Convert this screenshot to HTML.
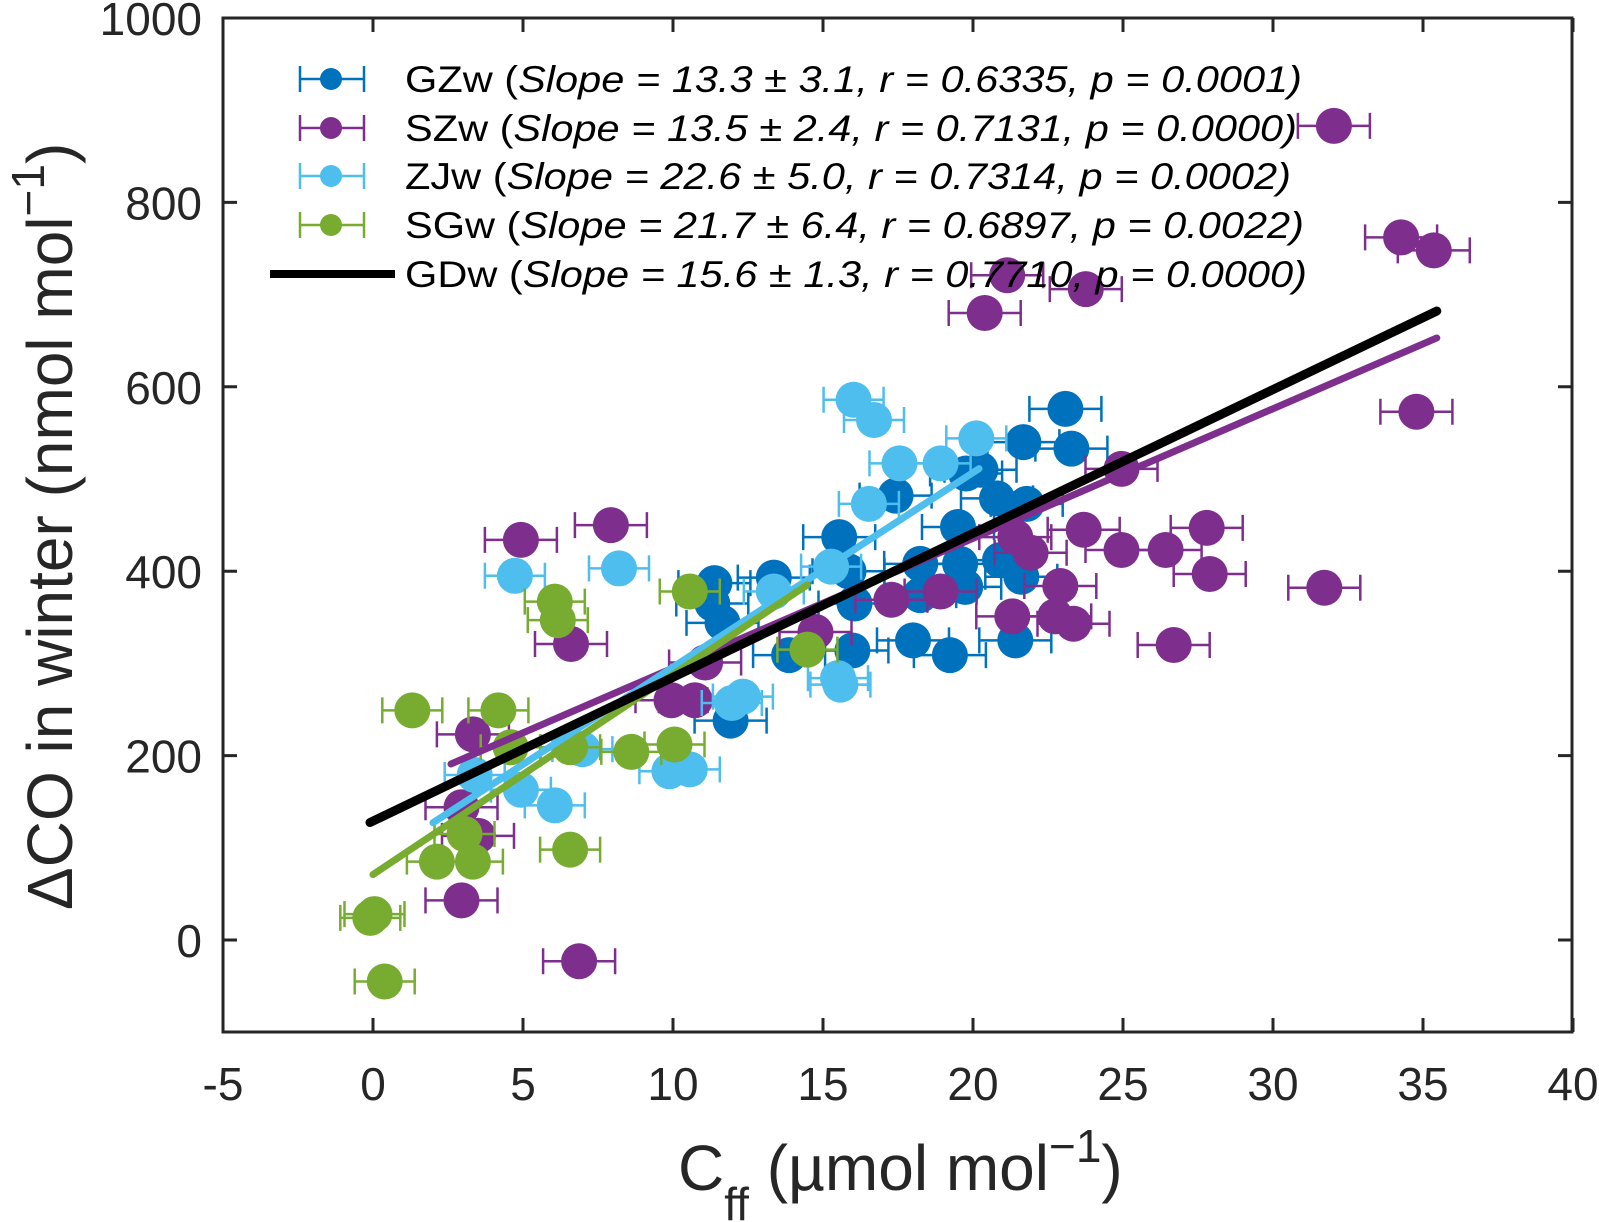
<!DOCTYPE html>
<html><head><meta charset="utf-8"><style>
html,body{margin:0;padding:0;background:#fff;}
svg{display:block;font-family:"Liberation Sans",Arial,sans-serif;}
</style></head><body>
<svg id="chart" width="1599" height="1222" viewBox="0 0 1599 1222" xmlns="http://www.w3.org/2000/svg">
<g id="marks"></g>
<g id="axes"></g>
<g id="legend"></g>
</svg>
<script>
const xTicks = [-5,0,5,10,15,20,25,30,35,40];
const yTicks = [0,200,400,600,800,1000];
const seriesNames = ["GZw","SZw","ZJw","SGw"];
const gzX = [23.08,21.68,23.28,20.25,20.8,21.79,19.5,17.42,15.54,11.38,13.36,16.05,18.24,19.57,19.74,20.9,21.61,18.24,18.0,19.23,15.98,21.41,13.87,11.31,11.65,11.92,19.77,15.85];
const gzY = [576,540,533,510,479,473,448,482,437,387,393,365,408,408,383,412,394,374,325,309,314,325,309,365,344,238,506,400];
const szX = [32.03,34.27,35.36,23.76,20.39,21.14,34.78,24.95,21.41,23.69,21.92,24.95,26.42,27.79,27.89,31.71,22.91,22.74,23.35,21.31,26.69,18.92,17.28,14.75,11.07,4.93,7.93,6.6,3.33,2.95,3.5,2.95,6.87,9.95,10.73];
const szY = [883,762,748,706,680,721,573,511,437,445,420,423,423,447,397,382,384,351,343,351,320,378,369,334,301,434,450,321,223,144,113,43,-23,260,260];
const zjX = [16.02,16.7,20.11,17.55,18.92,16.53,15.27,13.36,11.96,12.33,8.2,4.73,9.88,10.56,6.06,4.93,3.39,15.58,15.5,6.98];
const zjY = [586,564,544,517,517,473,405,378,257,264,403,395,183,185,146,163,179,277,284,207];
const sgX = [0.39,-0.09,0.05,1.31,4.18,4.59,3.05,2.13,3.33,6.57,6.57,8.61,10.05,6.06,6.16,10.56,14.48];
const sgY = [-45,24,28,249,249,209,115,85,85,209,98,204,212,367,347,378,315];
const errHalf = [1.2,1.2,1.0,1.0];
const fitIntercept = [154.4,85,71,129];
const fitSlope = [14.06,21.1,21.7,15.6];
const fitX0 = [2.6,2.0,0.0,-0.1];
const fitX1 = [35.46,20.2,14.48,35.46];

const NS="http://www.w3.org/2000/svg";
const L=223,R=1572,T=18,B=1032;
const xs=v=>373+v*30;
const ys=v=>940-v*0.922;
const colors=["#0072BD","#7E2F8E","#4DBEEE","#77AC30"];
function mk(tag,attrs,parent){const e=document.createElementNS(NS,tag);for(const k in attrs)e.setAttribute(k,attrs[k]);parent.appendChild(e);return e;}
const marks=document.getElementById('marks'),axes=document.getElementById('axes');

const data=[[gzX,gzY],[szX,szY],[zjX,zjY],[sgX,sgY]];
data.forEach((d,s)=>{
  const g=mk('g',{},marks);
  
  
  d[0].forEach((xv,i)=>{
    const cx=xs(xv),cy=ys(d[1][i]),h=errHalf[s]*30;
    const eb=mk('path',{d:`M${cx-h},${cy}H${cx+h}M${cx-h},${cy-13}V${cy+13}M${cx+h},${cy-13}V${cy+13}`,stroke:colors[s],'stroke-width':2.5,fill:'none'},g);
    
    
    const c=mk('circle',{cx:cx,cy:cy,r:18,fill:colors[s]},g);
    
    
  });
});
const lineColors=["#7E2F8E","#4DBEEE","#77AC30","#000000"];
const lineNames=["fit-szw","fit-zjw","fit-sgw","fit-gdw"];
const lineW=[7,7,7,9];
fitSlope.forEach((m,i)=>{
  const x0=fitX0[i],x1=fitX1[i];
  const ln=mk('line',{x1:xs(x0),y1:ys(fitIntercept[i]+m*x0),x2:xs(x1),y2:ys(fitIntercept[i]+m*x1),stroke:lineColors[i],'stroke-width':lineW[i],'stroke-linecap':'round'},marks);
  
  
});

const box=mk('rect',{x:L,y:T,width:R-L,height:B-T,fill:'none',stroke:'#262626','stroke-width':3},axes);


xTicks.forEach(t=>{
  const x=xs(t);
  mk('path',{d:`M${x},${B}V${B-14}M${x},${T}V${T+14}`,stroke:'#262626','stroke-width':3},axes);
  const tx=mk('text',{x:x,y:1100,'font-size':46,'text-anchor':'middle',fill:'#262626'},axes);
  tx.textContent=t;
  
  
});
yTicks.forEach(t=>{
  const y=ys(t);
  mk('path',{d:`M${L},${y}H${L+14}M${R},${y}H${R-14}`,stroke:'#262626','stroke-width':3},axes);
  const tx=mk('text',{x:202,y:y+17,'font-size':46,'text-anchor':'end',fill:'#262626'},axes);
  tx.textContent=t;
  
  
});
</script>
<script>
(function(){
const svg=document.getElementById('axes');
svg.insertAdjacentHTML('beforeend',
 '<text x="678" y="1190" font-size="64" fill="#262626">C<tspan dy="30" font-size="46">ff</tspan><tspan dy="-30"> (µmol mol</tspan><tspan dy="-28" font-size="46">−1</tspan><tspan dy="28">)</tspan></text>'+
 '<text transform="translate(72,910) rotate(-90)" font-size="64" fill="#262626">ΔCO in winter (nmol mol<tspan dy="-28" font-size="46">−1</tspan><tspan dy="28">)</tspan></text>');
const lg=document.getElementById('legend');
const rowsY=[79,128,176,225,274];
const cols=["#0072BD","#7E2F8E","#4DBEEE","#77AC30"];
const names=["GZw","SZw","ZJw","SGw","GDw"];
const labs=["Slope = 13.3 ± 3.1, r = 0.6335, p = 0.0001)","Slope = 13.5 ± 2.4, r = 0.7131, p = 0.0000)","Slope = 22.6 ± 5.0, r = 0.7314, p = 0.0002)","Slope = 21.7 ± 6.4, r = 0.6897, p = 0.0022)","Slope = 15.6 ± 1.3, r = 0.7710, p = 0.0000)"];
const lens=[897,892,886,899,902];
let h='';
rowsY.forEach((y,i)=>{
  if(i<4){
    h+=`<g><path d="M300,${y}H364M300,${y-13}V${y+13}M364,${y-13}V${y+13}" stroke="${cols[i]}" stroke-width="2.5" fill="none"/><circle cx="331" cy="${y}" r="11" fill="${cols[i]}"/>`;
  } else {
    h+=`<g><line x1="270" y1="${y}" x2="395" y2="${y}" stroke="#000" stroke-width="8"/>`;
  }
  h+=`<text x="405" y="${y+13}" font-size="37" fill="#000" textLength="${lens[i]}" lengthAdjust="spacingAndGlyphs">${names[i]} (<tspan font-style="italic">${labs[i]}</tspan></text></g>`;
});
lg.insertAdjacentHTML('beforeend',h);
})();
</script>
</body></html>
